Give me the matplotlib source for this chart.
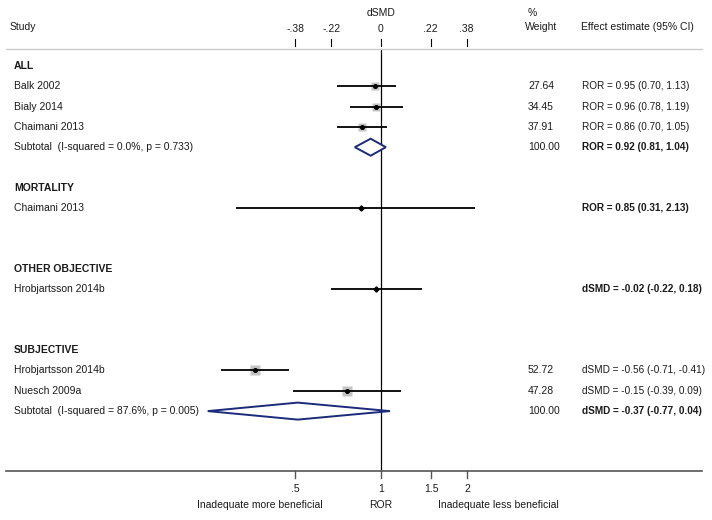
import numpy as np
import matplotlib
matplotlib.use("Agg")
import matplotlib.pyplot as plt
from matplotlib.patches import Polygon

plt.rcParams['font.family'] = ['Liberation Sans', 'DejaVu Sans']

# ---------------- data ----------------
group_names = ["ALL", "MORTALITY", "OTHER OBJECTIVE", "SUBJECTIVE"]
group_measures = ["ROR", "ROR", "dSMD", "dSMD"]
study_labels = [["Balk 2002", "Bialy 2014", "Chaimani 2013"],
                ["Chaimani 2013"],
                ["Hrobjartsson 2014b"],
                ["Hrobjartsson 2014b", "Nuesch 2009a"]]
study_est = [[0.95, 0.96, 0.86], [0.85], [-0.02], [-0.56, -0.15]]
study_lo = [[0.70, 0.78, 0.70], [0.31], [-0.22], [-0.71, -0.39]]
study_hi = [[1.13, 1.19, 1.05], [2.13], [0.18], [-0.41, 0.09]]
study_weight = [[27.64, 34.45, 37.91], [None], [None], [52.72, 47.28]]
subtotal_labels = ["Subtotal  (I-squared = 0.0%, p = 0.733)", None, None,
                   "Subtotal  (I-squared = 87.6%, p = 0.005)"]
subtotal_est = [0.92, None, None, -0.37]
subtotal_lo = [0.81, None, None, -0.77]
subtotal_hi = [1.04, None, None, 0.04]

top_ticks = [-0.38, -0.22, 0.0, 0.22, 0.38]
top_tick_labels = ["-.38", "-.22", "0", ".22", ".38"]
bottom_ticks = [0.5, 1.0, 1.5, 2.0]
bottom_tick_labels = [".5", "1", "1.5", "2"]

# ---------------- helpers ----------------
K = np.sqrt(3) / np.pi  # ln(ROR) -> dSMD


def to_d(v, measure):
    return np.log(v) * K if measure == "ROR" else v


W, H = 712, 520
X0PX = 381.0
PX_PER_D = 86.0 / (np.log(2) * K)
ROW0PX = 66.0
ROWPX = 20.3


def px2x(px):
    return (px - X0PX) / PX_PER_D


def px2y(py):
    return (py - ROW0PX) / ROWPX


fig = plt.figure(figsize=(W / 100, H / 100), dpi=100)
ax = fig.add_axes([0, 0, 1, 1])
ax.set_xlim(px2x(0), px2x(W))
ax.set_ylim(px2y(H), px2y(0))
ax.axis("off")

FS = 7.5
FSR = 7.2
TXT = "#1a1a1a"
NAVY = "#1b2a7a"

# header
ax.text(px2x(10), px2y(27), "Study", fontsize=FS, va="center", ha="left", color=TXT)
ax.text(0, px2y(13), "dSMD", fontsize=FS, va="center", ha="center", color=TXT)
ax.text(px2x(528), px2y(13), "%", fontsize=FS, va="center", ha="left", color=TXT)
ax.text(px2x(525), px2y(27), "Weight", fontsize=FS, va="center", ha="left", color=TXT)
ax.text(px2x(581), px2y(27), "Effect estimate (95% CI)", fontsize=FS, va="center",
        ha="left", color=TXT)
for t, lab in zip(top_ticks, top_tick_labels):
    ax.text(t, px2y(29), lab, fontsize=FS, va="center", ha="center", color=TXT)
    ax.plot([t, t], [px2y(39), px2y(46)], color="black", lw=0.8)

# frame lines
ax.plot([px2x(6), px2x(702)], [px2y(49), px2y(49)], color="#cccccc", lw=1.0)
ax.plot([px2x(6), px2x(702)], [px2y(471), px2y(471)], color="#555555", lw=1.2)
ax.plot([0, 0], [px2y(49), px2y(471)], color="black", lw=0.9, zorder=1)

# bottom axis
for t, lab in zip(bottom_ticks, bottom_tick_labels):
    xd = to_d(t, "ROR")
    ax.plot([xd, xd], [px2y(471), px2y(478)], color="#555555", lw=1.0)
    ax.text(xd, px2y(489), lab, fontsize=FS, va="center", ha="center", color=TXT)
ax.text(px2x(260), px2y(505), "Inadequate more beneficial", fontsize=FS,
        va="center", ha="center", color=TXT)
ax.text(0, px2y(505), "ROR", fontsize=FS, va="center", ha="center", color=TXT)
ax.text(px2x(498), px2y(505), "Inadequate less beneficial", fontsize=FS,
        va="center", ha="center", color=TXT)

# rows
row = 0
for g, name in enumerate(group_names):
    m = group_measures[g]
    ax.text(px2x(14), row, name, fontsize=FS, fontweight="bold", va="center",
            ha="left", color=TXT)
    row += 1
    single = len(study_labels[g]) == 1
    for i, lab in enumerate(study_labels[g]):
        e = to_d(study_est[g][i], m)
        lo = to_d(study_lo[g][i], m)
        hi = to_d(study_hi[g][i], m)
        ax.text(px2x(14), row, lab, fontsize=FS, va="center", ha="left", color=TXT)
        w = study_weight[g][i]
        if w is not None:
            side_px = 1.35 * np.sqrt(w)
            ax.plot([e], [row], marker="s", ms=side_px * 0.72, color="#c4c4c4",
                    mec="none", zorder=2)
            ax.text(px2x(528), row, f"{w:.2f}", fontsize=FS, va="center",
                    ha="left", color=TXT)
        ax.plot([lo, hi], [row, row], color="black", lw=1.3, zorder=3,
                solid_capstyle="butt")
        ax.plot([e], [row], marker="D" if single else "o",
                ms=2.6, color="black", zorder=4)
        ax.text(px2x(582), row,
                f"{m} = {study_est[g][i]:.2f} ({study_lo[g][i]:.2f}, {study_hi[g][i]:.2f})",
                fontsize=FSR, va="center", ha="left", color=TXT,
                fontweight="bold" if single else "normal")
        row += 1
    if subtotal_labels[g] is not None:
        e = to_d(subtotal_est[g], m)
        lo = to_d(subtotal_lo[g], m)
        hi = to_d(subtotal_hi[g], m)
        h = 8.5 / ROWPX
        ax.add_patch(Polygon([[lo, row], [e, row - h], [hi, row], [e, row + h]],
                             closed=True, facecolor="white", edgecolor=NAVY,
                             lw=1.4, zorder=3))
        ax.text(px2x(14), row, subtotal_labels[g], fontsize=FS, va="center",
                ha="left", color=TXT)
        ax.text(px2x(528), row, "100.00", fontsize=FS, va="center", ha="left",
                color=TXT)
        ax.text(px2x(582), row,
                f"{m} = {subtotal_est[g]:.2f} ({subtotal_lo[g]:.2f}, {subtotal_hi[g]:.2f})",
                fontsize=FSR, fontweight="bold", va="center", ha="left", color=TXT)
    row += 2

fig.savefig("out.png", dpi=100)
